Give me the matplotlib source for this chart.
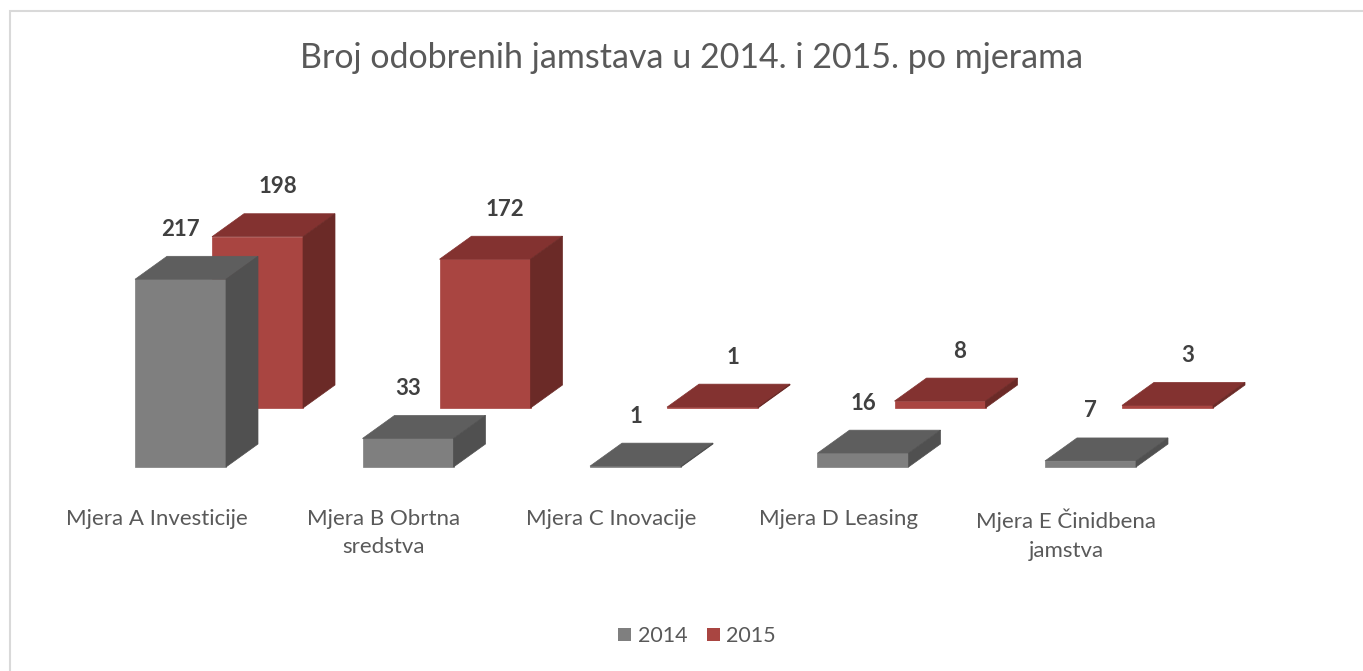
import numpy as np
import matplotlib.pyplot as plt
from matplotlib.patches import Polygon, Patch, Rectangle

categories = ["Mjera A Investicije", "Mjera B Obrtna\nsredstva", "Mjera C Inovacije",
              "Mjera D Leasing", "Mjera E Činidbena\njamstva"]
series_names = ["2014", "2015"]
values_2014 = [217, 33, 1, 16, 7]
values_2015 = [198, 172, 1, 8, 3]

title = "Broj odobrenih jamstava u 2014. i 2015. po mjerama"

# colours: front, top, side
gray_cols = ("#7f7f7f", "#5e5e5e", "#505050")
red_cols = ("#a94541", "#833230", "#6b2a27")

plt.rcParams["font.family"] = ["Lato", "DejaVu Sans"]

W, H = 1363, 671
fig = plt.figure(figsize=(W / 100, H / 100), dpi=100, facecolor="white")
ax = fig.add_axes([0, 0, 1, 1])
ax.axis("off")

# pixel scale of the category / value axes
px_cat = 227.5
px_val = 0.865
x0_px = 180.5          # centre of first front bar
base_px = H - 467      # baseline of front row
ax.set_xlim(-x0_px / px_cat, (W - x0_px) / px_cat)
ax.set_ylim(-base_px / px_val, (H - base_px) / px_val)

bar_w = 91 / px_cat
depth_dx = 32 / px_cat
depth_dy = 23 / px_val
row_dx = 77 / px_cat
row_dy = 59 / px_val


def draw_box(xc, v, base, cols):
    front, top, side = cols
    xl, xr = xc - bar_w / 2, xc + bar_w / 2
    yt = base + v
    ax.bar(xc, v, bar_w, bottom=base, color=front, edgecolor=front, linewidth=0.5, zorder=3)
    ax.add_patch(Polygon([(xl, yt), (xr, yt), (xr + depth_dx, yt + depth_dy),
                          (xl + depth_dx, yt + depth_dy)], closed=True,
                         facecolor=top, edgecolor=top, linewidth=0.5, zorder=3))
    ax.add_patch(Polygon([(xr, base), (xr, yt), (xr + depth_dx, yt + depth_dy),
                          (xr + depth_dx, base + depth_dy)], closed=True,
                         facecolor=side, edgecolor=side, linewidth=0.5, zorder=3))


x = np.arange(len(categories))

# back row (2015)
for xi, v in zip(x, values_2015):
    draw_box(xi + row_dx, v, row_dy, red_cols)
    ax.annotate(str(v), (xi + row_dx + 20 / px_cat, row_dy + v), xytext=(0, 36),
                textcoords="offset points", ha="center", va="center",
                fontsize=16, fontweight="bold", color="#404040", zorder=5)

# front row (2014)
for xi, v in zip(x, values_2014):
    draw_box(xi, v, 0, gray_cols)
    ax.annotate(str(v), (xi, v), xytext=(0, 36),
                textcoords="offset points", ha="center", va="center",
                fontsize=16, fontweight="bold", color="#404040", zorder=5)

# category labels
for xi, c in zip(x, categories):
    ax.annotate(c, (xi - 24 / px_cat, 0), xytext=(0, -30), textcoords="offset points",
                ha="center", va="top", fontsize=16, color="#595959", linespacing=1.55)

fig.text(692 / W, 1 - 58 / H, title, ha="center", va="center", fontsize=24.5, color="#595959")

handles = [Patch(facecolor=gray_cols[0]), Patch(facecolor=red_cols[0])]
fig.legend(handles, series_names, loc="center", bbox_to_anchor=(697 / W, 1 - 636 / H), ncol=2,
           frameon=False, fontsize=15.5, labelcolor="#595959", handlelength=0.6,
           handleheight=0.6, handletextpad=0.3, columnspacing=0.9)

# chart border (top and left visible)
fig.add_artist(Rectangle((10 / W, -0.1), 1.2, 1 - 11 / H + 0.1, transform=fig.transFigure,
                         fill=False, edgecolor="#d9d9d9", linewidth=1.5))

fig.savefig("out.png", dpi=100, facecolor="white")
